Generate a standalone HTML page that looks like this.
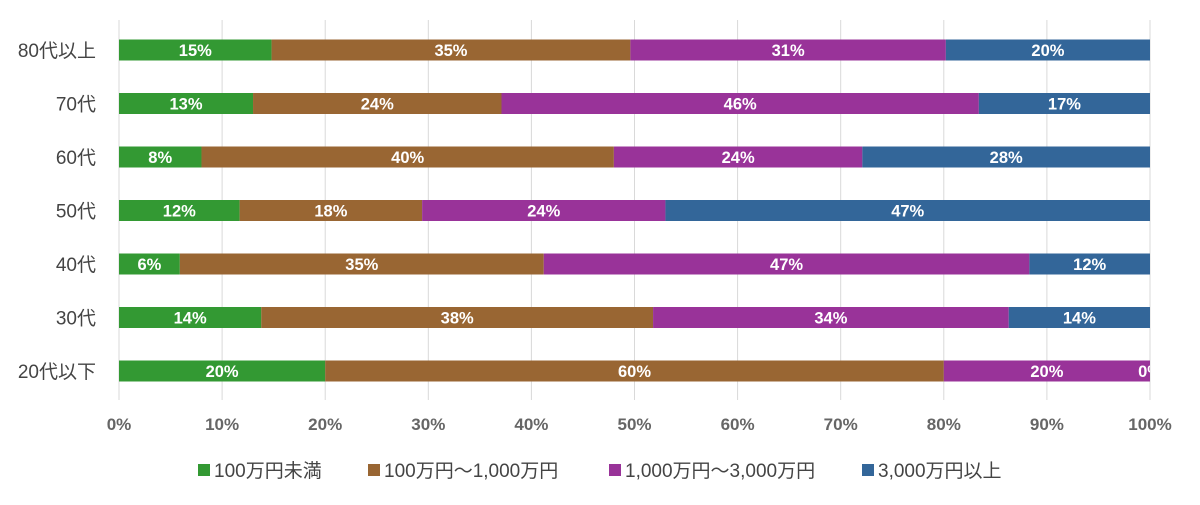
<!DOCTYPE html>
<html><head><meta charset="utf-8"><style>
body{margin:0;background:#fff;}
svg{display:block;font-family:"Liberation Sans","Noto Sans CJK JP",sans-serif;}
</style></head><body>
<svg id="c" width="1200" height="505"></svg>
<script>
const categories=["80代以上","70代","60代","50代","40代","30代","20代以下"];
const seriesNames=["100万円未満","100万円～1,000万円","1,000万円～3,000万円","3,000万円以上"];
const s1=[14.8,13.0,8.0,11.7,5.9,13.8,20.0];
const s2=[34.8,24.1,40.0,17.7,35.3,38.0,60.0];
const s3=[30.6,46.3,24.1,23.6,47.1,34.5,20.0];
const s4=[19.8,16.6,27.9,47.0,11.7,13.7,0.0];
const labels1=["15%","13%","8%","12%","6%","14%","20%"];
const labels2=["35%","24%","40%","18%","35%","38%","60%"];
const labels3=["31%","46%","24%","24%","47%","34%","20%"];
const labels4=["20%","17%","28%","47%","12%","14%","0%"];
const ticks=[0,10,20,30,40,50,60,70,80,90,100];
const colors=["#339933","#996633","#993399","#336699"];
const NS="http://www.w3.org/2000/svg";
const svg=document.getElementById("c");
const x0=119,x1=1150;
const xs=v=>x0+(x1-x0)*v/100;
const yc=i=>50+i*53.5;
function el(t,a,p){const e=document.createElementNS(NS,t);for(const k in a)e.setAttribute(k,a[k]);(p||svg).appendChild(e);return e;}
const defs=el("defs",{});
const cp=el("clipPath",{id:"clip"},defs);
el("rect",{x:0,y:0,width:x1,height:505},cp);
ticks.forEach(t=>{
 const g=el("line",{x1:xs(t),x2:xs(t),y1:20,y2:400,stroke:"#d9d9d9","stroke-width":1});
 
 
 const tx=el("text",{x:xs(t),y:430,"text-anchor":"middle","font-size":17,"font-weight":"bold",fill:"#666"});
 tx.textContent=t+"%";
 
 
});
const series=[s1,s2,s3,s4];
const labs=[labels1,labels2,labels3,labels4];
const plot=el("g",{"clip-path":"url(#clip)"});
categories.forEach((c,i)=>{
 const y=yc(i);
 const ct=el("text",{x:96,y:y+7,"text-anchor":"end","font-size":19,fill:"#444"});
 ct.textContent=c;
 
 
 let acc=0;
 series.forEach((s,k)=>{
  const v=s[i];
  const r=el("rect",{x:xs(acc),y:y-10.5,width:Math.max(0,xs(acc+v)-xs(acc)),height:21,fill:colors[k]},plot);
  
  
  const t=el("text",{x:(xs(acc)+xs(acc+v))/2,y:y+6,"text-anchor":"middle","font-size":16.5,"font-weight":"bold",fill:"#fff"},plot);
  t.textContent=labs[k][i];
  
  
  acc+=v;
 });
});
const lx=[198,368,609,862];
seriesNames.forEach((n,k)=>{
 const g=el("g",{});
 
 
 el("rect",{x:lx[k],y:464,width:12,height:12,fill:colors[k]},g);
 const t=el("text",{x:lx[k]+16,y:477,"font-size":19,fill:"#444"},g);
 t.textContent=n;
});
</script>
</body></html>
